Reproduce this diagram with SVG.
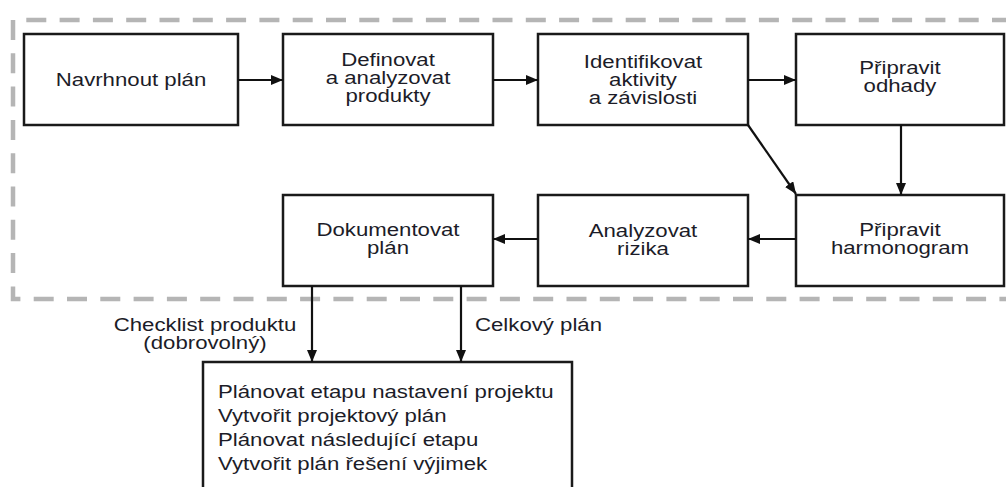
<svg xmlns="http://www.w3.org/2000/svg" width="1006" height="487" viewBox="0 0 1006 487">
<style>
.box{fill:#fff;stroke:#1a1a1a;stroke-width:2.5}
.t{font-family:"Liberation Sans",Arial,sans-serif;font-size:18.5px;fill:#1c1c28;text-anchor:middle}
.l{font-family:"Liberation Sans",Arial,sans-serif;font-size:18.5px;fill:#1c1c28}
.c{stroke:#111;stroke-width:2.2;fill:none;marker-end:url(#ah)}
.frame{fill:none;stroke:#b5b5b5;stroke-width:4.5;stroke-dasharray:20 13.3}
</style>
<defs>
<marker id="ah" markerUnits="userSpaceOnUse" markerWidth="13" markerHeight="11" refX="12" refY="5" orient="auto">
<path d="M0,0 L12,5 L0,10 Z" fill="#111"/>
</marker>
</defs>
<rect width="1006" height="487" fill="#fff"/>
<path class="frame" d="M1012,20 H13 V299 H1012"/>
<g id="n1"><rect class="box" x="24" y="34" width="214" height="91"/>
<text class="t" transform="translate(131 0) scale(1.2 1)"><tspan x="0" y="86">Navrhnout plán</tspan></text></g>
<g id="n2"><rect class="box" x="283" y="34" width="210" height="91"/>
<text class="t" transform="translate(388 0) scale(1.2 1)"><tspan x="0" y="66">Definovat</tspan><tspan x="0" y="84">a analyzovat</tspan><tspan x="0" y="102">produkty</tspan></text></g>
<g id="n3"><rect class="box" x="538" y="34" width="210" height="91"/>
<text class="t" transform="translate(643 0) scale(1.2 1)"><tspan x="0" y="68">Identifikovat</tspan><tspan x="0" y="86">aktivity</tspan><tspan x="0" y="104">a závislosti</tspan></text></g>
<g id="n4"><rect class="box" x="796" y="34" width="208" height="91"/>
<text class="t" transform="translate(900 0) scale(1.2 1)"><tspan x="0" y="74">Připravit</tspan><tspan x="0" y="92">odhady</tspan></text></g>
<g id="n5"><rect class="box" x="283" y="195" width="210" height="91"/>
<text class="t" transform="translate(388 0) scale(1.2 1)"><tspan x="0" y="236">Dokumentovat</tspan><tspan x="0" y="254">plán</tspan></text></g>
<g id="n6"><rect class="box" x="538" y="195" width="210" height="91"/>
<text class="t" transform="translate(643 0) scale(1.2 1)"><tspan x="0" y="237">Analyzovat</tspan><tspan x="0" y="255">rizika</tspan></text></g>
<g id="n7"><rect class="box" x="796" y="195" width="208" height="91"/>
<text class="t" transform="translate(900 0) scale(1.2 1)"><tspan x="0" y="236">Připravit</tspan><tspan x="0" y="254">harmonogram</tspan></text></g>
<g id="n8"><rect class="box" x="203" y="362" width="369" height="140"/>
<text class="l" transform="translate(218 0) scale(1.2 1)"><tspan x="0" y="398">Plánovat etapu nastavení projektu</tspan><tspan x="0" y="422">Vytvořit projektový plán</tspan><tspan x="0" y="446">Plánovat následující etapu</tspan><tspan x="0" y="470">Vytvořit plán řešení výjimek</tspan></text></g>
<g id="connectors">
<path class="c" d="M238,80 H283"/>
<path class="c" d="M493,80 H538"/>
<path class="c" d="M748,80 H796"/>
<path class="c" d="M901,125 V195"/>
<path class="c" d="M748,125 L796,194"/>
<path class="c" d="M796,239 H748"/>
<path class="c" d="M538,239 H493"/>
<path class="c" d="M312,286 V362"/>
<path class="c" d="M461,286 V362"/>
<text class="t" transform="translate(205 0) scale(1.2 1)"><tspan x="0" y="331">Checklist produktu</tspan><tspan x="0" y="349">(dobrovolný)</tspan></text>
<text class="l" transform="translate(475 0) scale(1.2 1)"><tspan x="0" y="331">Celkový plán</tspan></text>
</g>
</svg>
